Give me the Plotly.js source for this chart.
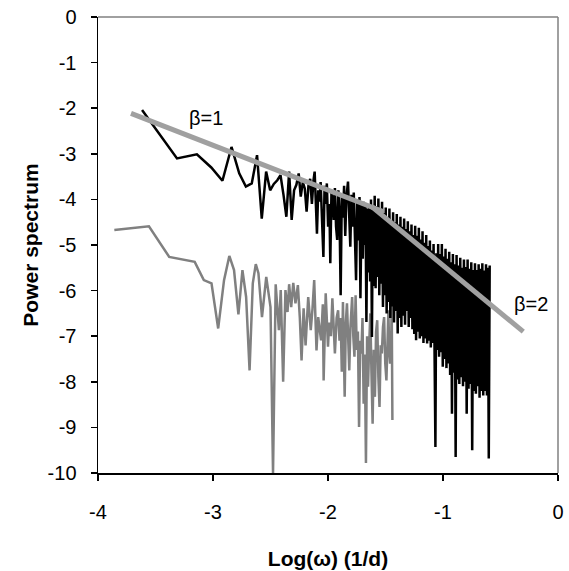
<!DOCTYPE html>
<html>
<head>
<meta charset="utf-8">
<script src="https://cdn.plot.ly/plotly-3.0.1.min.js"></script>
<style>html,body{margin:0;padding:0;background:#fff;}#chart{width:569px;height:571px;}</style>
</head>
<body>
<div id="chart"></div>
<script>
// ---- Data ----
const blackX = [
 -3.617,-3.313,-3.140,-3.015,-2.918,-2.839,-2.772,-2.714,-2.663,-2.617,-2.576,-2.538,-2.503,-2.471,-2.441,-2.413,-2.387,-2.362,-2.338,-2.316,-2.295,-2.275,-2.255,-2.237,-2.219,-2.202,-2.186,-2.170,
 -2.155,-2.140,-2.127,-2.116,-2.104,-2.096,-2.085,-2.074,-2.064,-2.052,-2.040,-2.030,-2.020,-2.010,-1.999,-1.988,-1.980,-1.970,-1.960,-1.950,-1.940,-1.930,-1.920,-1.910,-1.900,-1.890,-1.880,-1.870,-1.860,-1.850,-1.840,-1.826,-1.816,-1.806,-1.796,-1.786,-1.776,-1.766,-1.756,-1.746,-1.736,-1.726,-1.718,-1.708,-1.698,-1.690,-1.682,-1.674,-1.666,-1.658,-1.650,-1.642,-1.634,-1.626,-1.618,-1.610,-1.602,
 -1.594,-1.586,-1.578,-1.570,-1.562,-1.554,-1.546,-1.538,-1.530,-1.522,
 -1.514,-1.506,-1.498,-1.490,-1.482,-1.474,-1.466,-1.458,-1.450,-1.442,
 -1.434,-1.426,-1.418,-1.410,-1.402,-1.394,-1.386,-1.378,-1.370,-1.362,
 -1.354,-1.346,-1.338,-1.330,-1.322,-1.314,-1.306,-1.298,-1.290,-1.282,
 -1.274,-1.266,-1.258,-1.250,-1.242,-1.234,-1.226,-1.218,-1.210,-1.202,
 -1.194,-1.186,-1.178,-1.170,-1.162,-1.154,-1.146,-1.138,-1.130,-1.122,
 -1.114,-1.106,-1.098,-1.090,-1.082,-1.074,-1.066,-1.058,-1.050,-1.042,
 -1.034,-1.026,-1.018,-1.010,-1.002,-0.994,-0.986,-0.978,-0.970,-0.962,
 -0.954,-0.946,-0.938,-0.930,-0.922,-0.914,-0.906,-0.898,-0.890,-0.882,
 -0.874,-0.866,-0.858,-0.850,-0.842,-0.834,-0.826,-0.818,-0.810,-0.802,
 -0.794,-0.786,-0.778,-0.770,-0.762,-0.754,-0.746,-0.738,-0.730,-0.722,
 -0.714,-0.706,-0.698,-0.690,-0.682,-0.674,-0.666,-0.658,-0.650,-0.642,
 -0.634,-0.626,-0.618,-0.610,-0.602,-0.594
];
const blackY = [
 -2.04,-3.10,-3.01,-3.30,-3.59,-2.85,-3.43,-3.72,-3.65,-3.03,-4.42,-3.39,-3.80,-3.66,-3.58,-3.47,-3.90,-4.38,-3.39,-4.45,-3.80,-3.68,-3.43,-3.94,-3.62,-3.76,-4.27,-3.70,
 -3.55,-4.10,-3.60,-3.39,-4.20,-4.75,-3.80,-4.05,-3.62,-4.40,-5.26,-3.70,-4.10,-3.65,-4.60,-4.10,-5.40,-3.85,-3.98,-4.45,-3.75,-4.60,-4.89,-3.80,-4.30,-6.10,-3.90,-4.40,-3.70,-4.80,-3.95,-3.61,-4.50,-5.04,-3.90,-4.60,-3.85,-5.20,-5.77,-4.00,-4.90,-3.95,-6.17,-4.10,-5.30,-4.05,-5.00,-4.15,-6.69,-4.20,-5.60,-4.10,-5.80,-4.00,-7.02,-4.15,-5.90,
 -3.92,-5.95,-4.15,-5.70,-3.98,-6.10,-4.22,-5.85,-4.05,-6.36,
 -4.30,-6.10,-4.18,-6.50,-4.40,-6.25,-4.20,-6.60,-4.45,-6.35,
 -4.28,-6.70,-4.50,-6.45,-4.32,-6.94,-4.55,-6.60,-4.38,-6.80,
 -4.60,-6.55,-4.42,-6.75,-4.65,-6.45,-4.48,-6.80,-4.70,-6.60,
 -4.55,-6.85,-4.78,-6.95,-4.58,-7.09,-4.80,-6.90,-4.62,-7.05,
 -4.88,-7.00,-4.70,-7.15,-4.95,-7.05,-4.78,-7.16,-5.02,-7.10,
 -4.90,-7.25,-5.12,-7.15,-4.98,-7.35,-9.43,-5.18,-7.30,-4.98,
 -7.45,-5.20,-7.35,-4.98,-7.67,-5.25,-7.50,-5.08,-7.70,-5.30,
 -7.60,-5.15,-7.85,-5.38,-8.70,-5.20,-7.80,-5.42,-9.65,-5.22,
 -7.95,-5.45,-8.05,-5.28,-7.90,-5.50,-8.10,-5.32,-8.00,-5.48,
 -8.70,-5.32,-8.15,-5.52,-8.05,-5.38,-9.50,-5.55,-8.20,-5.40,
 -8.26,-5.55,-8.10,-5.42,-8.35,-5.52,-8.20,-5.40,-8.30,-5.56,
 -8.20,-5.42,-8.30,-5.50,-9.68,-5.45
];
const grayX = [
 -3.858,-3.557,-3.381,-3.256,-3.159,-3.080,-3.013,-2.955,-2.904,-2.858,
 -2.817,-2.779,-2.744,-2.712,-2.682,-2.654,-2.628,-2.605,-2.574,-2.537,
 -2.500,-2.478,-2.455,-2.427,-2.411,-2.390,-2.370,-2.352,-2.338,-2.320,
 -2.302,-2.283,-2.262,-2.245,-2.230,-2.212,-2.195,-2.172,-2.150,-2.135,
 -2.120,-2.100,-2.085,-2.070,-2.060,-2.045,-2.038,-2.020,-2.008,-2.000,
 -1.990,-1.975,-1.962,-1.950,-1.940,-1.925,-1.912,-1.900,-1.890,-1.880,
 -1.870,-1.855,-1.845,-1.835,-1.825,-1.815,-1.805,-1.790,-1.780,-1.770,
 -1.760,-1.750,-1.740,-1.730,-1.720,-1.710,-1.700,-1.690,-1.680,-1.670,
 -1.660,-1.652,-1.642,-1.632,-1.622,-1.612,-1.602,-1.592,-1.582,-1.572,
 -1.562,-1.552,-1.542,-1.532,-1.522,-1.512,-1.502,-1.492,-1.482,-1.475,
 -1.468,-1.460,-1.452,-1.446,-1.440
];
const grayY = [
 -4.67,-4.59,-5.26,-5.32,-5.37,-5.77,-5.84,-6.83,-5.77,-5.24,
 -5.55,-6.52,-5.55,-6.14,-7.75,-5.84,-5.42,-5.62,-6.58,-5.70,
 -6.36,-10.0,-5.86,-6.87,-5.99,-8.00,-5.99,-6.47,-5.86,-6.36,
 -5.83,-6.28,-5.88,-6.60,-7.53,-6.39,-7.20,-6.14,-6.87,-6.40,
 -5.77,-7.31,-6.58,-6.90,-7.09,-6.30,-7.97,-6.06,-6.80,-7.23,
 -6.70,-7.00,-6.17,-6.90,-7.38,-6.60,-6.43,-7.10,-6.60,-7.78,
 -6.25,-8.33,-6.70,-6.28,-7.20,-7.75,-6.80,-6.14,-7.00,-7.45,
 -6.10,-7.30,-6.90,-8.99,-7.10,-7.38,-6.60,-8.48,-7.40,-9.78,
 -7.00,-8.11,-7.20,-6.50,-7.80,-8.92,-7.30,-8.33,-6.90,-6.65,
 -7.90,-8.55,-7.20,-7.38,-6.80,-6.58,-7.60,-7.97,-7.10,-6.43,
 -7.30,-7.60,-7.40,-6.28,-8.84
];
// Fitted slope lines
const beta1X = [-3.713, -1.516];
const beta1Y = [-2.112, -4.270];
const beta2X = [-1.617, -0.302];
const beta2Y = [-4.163, -6.900];
const betaLabels = ['β=1', 'β=2'];
// Tick labels
const xTickVals = [-4, -3, -2, -1, 0];
const xTickText = ['-4', '-3', '-2', '-1', '0'];
const yTickVals = [0, -1, -2, -3, -4, -5, -6, -7, -8, -9, -10];
const yTickText = ['0', '-1', '-2', '-3', '-4', '-5', '-6', '-7', '-8', '-9', '-10'];

const FONT = 'Liberation Sans, Arial, Helvetica, sans-serif';

const traces = [
  {x: grayX, y: grayY, type: 'scatter', mode: 'lines', line: {color: '#808080', width: 2.5}, hoverinfo: 'skip'},
  {x: blackX, y: blackY, type: 'scatter', mode: 'lines', line: {color: '#000000', width: 2.5}, hoverinfo: 'skip'},
  {x: beta1X, y: beta1Y, type: 'scatter', mode: 'lines', line: {color: '#a0a0a0', width: 5}, hoverinfo: 'skip'},
  {x: beta2X, y: beta2Y, type: 'scatter', mode: 'lines', line: {color: '#a0a0a0', width: 5}, hoverinfo: 'skip'}
];

const layout = {
  width: 569, height: 571,
  margin: {l: 98, r: 11, t: 17, b: 98, pad: 0},
  paper_bgcolor: '#ffffff', plot_bgcolor: '#ffffff',
  font: {family: FONT, size: 20, color: '#000'},
  showlegend: false,
  xaxis: {
    range: [-4, 0], tickmode: 'array', tickvals: xTickVals, ticktext: xTickText,
    ticks: 'outside', ticklen: 6, tickwidth: 1.5, tickcolor: '#000',
    showline: true, linecolor: '#000', linewidth: 1.5,
    showgrid: false, zeroline: false, ticklabelstandoff: 14,
    tickfont: {family: FONT, size: 20, color: '#000'},
    title: {text: '<b>Log(ω) (1/d)</b>', font: {family: FONT, size: 21, color: '#000'}, standoff: 30}
  },
  yaxis: {
    range: [-10, 0], tickmode: 'array', tickvals: yTickVals, ticktext: yTickText,
    ticks: 'outside', ticklen: 6, tickwidth: 1.5, tickcolor: '#000',
    showline: true, linecolor: '#000', linewidth: 1.5,
    showgrid: false, zeroline: false, ticklabelstandoff: 10,
    tickfont: {family: FONT, size: 20, color: '#000'},
    title: {text: '<b>Power spectrum</b>', font: {family: FONT, size: 21, color: '#000'}, standoff: 3}
  },
  shapes: [
    {type: 'line', xref: 'paper', yref: 'paper', x0: 0, x1: 1, y0: 1, y1: 1, line: {color: '#808080', width: 1.5}},
    {type: 'line', xref: 'paper', yref: 'paper', x0: 1, x1: 1, y0: 0, y1: 1, line: {color: '#808080', width: 1.5}}
  ],
  annotations: [
    {x: -3.058, y: -2.216, xref: 'x', yref: 'y', text: betaLabels[0], showarrow: false, font: {family: FONT, size: 20, color: '#000'}},
    {x: -0.232, y: -6.30, xref: 'x', yref: 'y', text: betaLabels[1], showarrow: false, font: {family: FONT, size: 20, color: '#000'}}
  ]
};

Plotly.newPlot('chart', traces, layout, {displayModeBar: false, staticPlot: true});
</script>
</body>
</html>
